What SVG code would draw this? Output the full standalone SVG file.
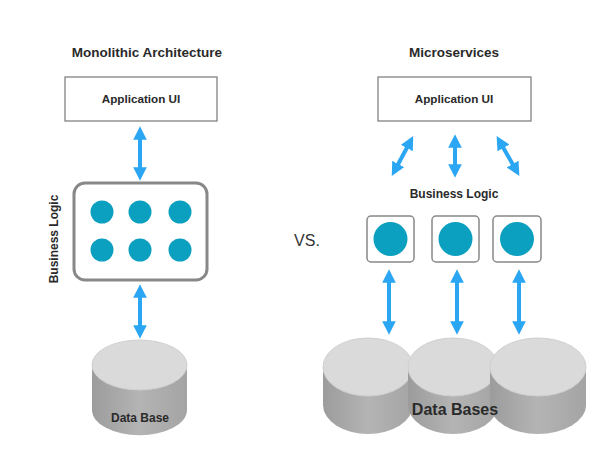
<svg xmlns="http://www.w3.org/2000/svg" width="599" height="458" viewBox="0 0 599 458">
<defs>
<style>
.t{font-family:"Liberation Sans",Arial,sans-serif;font-weight:bold;fill:#2a2a2a;}
.box{fill:#fff;stroke:#777;stroke-width:1.2;}
.mbox{fill:#fff;stroke:#888;stroke-width:3;}
.sbox{fill:#fff;stroke:#888;stroke-width:1.5;}
.dot{fill:#0b9fc0;}
.arr{stroke:#2ba6f2;stroke-width:4;fill:none;marker-start:url(#ah);marker-end:url(#ah);}
.top{fill:#dadada;stroke:#d0d0d0;stroke-width:1;}
.side{fill:url(#g);}
</style>
<marker id="ah" viewBox="0 0 10 10" refX="5" refY="5" markerWidth="3.4" markerHeight="3.4" orient="auto-start-reverse" markerUnits="strokeWidth">
<path d="M0,0 L10,5 L0,10 z" fill="#2ba6f2"/>
</marker>
<linearGradient id="g" x1="0" x2="1" y1="0" y2="0">
<stop offset="0" stop-color="#9c9c9c"/>
<stop offset="0.5" stop-color="#b4b4b4"/>
<stop offset="1" stop-color="#a4a4a4"/>
</linearGradient>
</defs>

<g id="title-mono"><text class="t" x="147" y="57" font-size="13.5" text-anchor="middle">Monolithic Architecture</text></g>
<g id="title-micro"><text class="t" x="454" y="57" font-size="13.5" text-anchor="middle">Microservices</text></g>

<g id="mono-ui">
<rect class="box" x="65" y="77" width="152" height="44"/>
<text class="t" x="141" y="103" font-size="11.7" text-anchor="middle">Application UI</text>
</g>

<g id="mono-logic">
<rect class="mbox" x="74" y="183" width="133" height="97" rx="11"/>
<circle class="dot" cx="102" cy="212" r="11.5"/>
<circle class="dot" cx="140" cy="212" r="11.5"/>
<circle class="dot" cx="180" cy="212" r="11.5"/>
<circle class="dot" cx="102" cy="250" r="11.5"/>
<circle class="dot" cx="140" cy="250" r="11.5"/>
<circle class="dot" cx="180" cy="250" r="11.5"/>
<text class="t" font-size="12" text-anchor="middle" transform="translate(58,239) rotate(-90)">Business Logic</text>
</g>

<g id="mono-db">
<path class="side" d="M92,365 L92,410 A47,25 0 0 0 187,410 L187,365 Z"/>
<ellipse class="top" cx="139.5" cy="365" rx="47.5" ry="25"/>
<text class="t" x="140" y="422" font-size="12" text-anchor="middle">Data Base</text>
</g>

<g id="vs"><text x="307" y="246" font-family="Liberation Sans,Arial,sans-serif" font-size="16" fill="#333" text-anchor="middle">VS.</text></g>

<g id="micro-ui">
<rect class="box" x="378" y="77" width="153" height="44"/>
<text class="t" x="454" y="103" font-size="11.7" text-anchor="middle">Application UI</text>
</g>

<g id="micro-logic-label"><text class="t" x="454" y="198" font-size="12" text-anchor="middle">Business Logic</text></g>

<g id="svc1"><rect class="sbox" x="367" y="216" width="47" height="46" rx="4"/><circle class="dot" cx="390.5" cy="239" r="17"/></g>
<g id="svc2"><rect class="sbox" x="432" y="216" width="47" height="46" rx="4"/><circle class="dot" cx="455.5" cy="239" r="17"/></g>
<g id="svc3"><rect class="sbox" x="493" y="216" width="48" height="46" rx="4"/><circle class="dot" cx="517" cy="239" r="17"/></g>

<g id="micro-dbs">
<path class="side" d="M323,367 L323,405 A45,29 0 0 0 413,405 L413,367 Z"/>
<ellipse class="top" cx="368" cy="367" rx="45" ry="29"/>
<path class="side" d="M408,367 L408,405 A45,29 0 0 0 498,405 L498,367 Z"/>
<ellipse class="top" cx="453" cy="367" rx="45" ry="29"/>
<path class="side" d="M490,367 L490,405 A48,29 0 0 0 586,405 L586,367 Z"/>
<ellipse class="top" cx="538" cy="367" rx="48" ry="29"/>
<text class="t" x="455" y="415" font-size="16" text-anchor="middle">Data Bases</text>
</g>

<g id="connectors">
<line class="arr" x1="140" y1="133" x2="140" y2="174"/>
<line class="arr" x1="140" y1="291" x2="140" y2="332"/>
<line class="arr" x1="410" y1="142" x2="395" y2="170"/>
<line class="arr" x1="455" y1="141" x2="455" y2="171"/>
<line class="arr" x1="500" y1="142" x2="516" y2="170"/>
<line class="arr" x1="389" y1="276" x2="389" y2="328"/>
<line class="arr" x1="457" y1="276" x2="457" y2="328"/>
<line class="arr" x1="519" y1="276" x2="519" y2="328"/>
</g>
</svg>
